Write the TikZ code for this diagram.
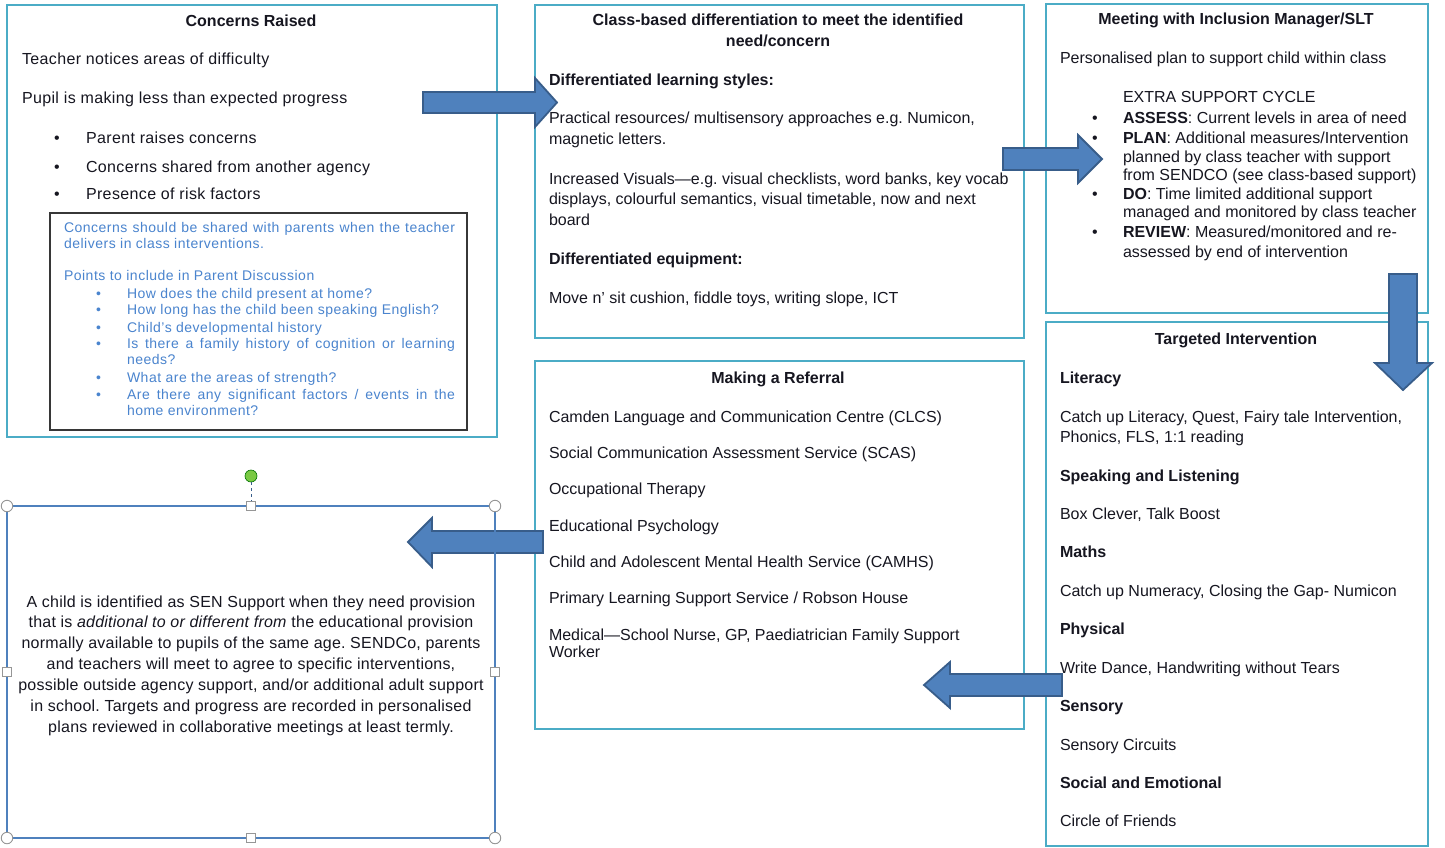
\documentclass[tikz,border=0pt]{standalone}
\usepackage{fontspec}
\setmainfont{Liberation Sans}
\newfontfamily\widefont[LetterSpace=2.3]{Liberation Sans}
\newfontfamily\senfont[LetterSpace=1.4]{Liberation Sans}
\newfontfamily\innerfont[LetterSpace=3.6]{Liberation Sans}
\definecolor{boxteal}{RGB}{75,172,198}
\definecolor{arrowfill}{RGB}{79,129,189}
\definecolor{arrowedge}{RGB}{56,93,138}
\definecolor{ink}{RGB}{22,22,32}
\definecolor{innerblue}{RGB}{74,132,206}
\definecolor{innerframe}{RGB}{55,55,55}
\definecolor{handlegray}{RGB}{150,150,150}
\definecolor{handlegreen}{RGB}{122,201,67}
\frenchspacing
\begin{document}
\begin{tikzpicture}[x=1pt,y=-1pt,
  box/.style={draw=boxteal,line width=2.7pt,rectangle,inner sep=0pt,outer sep=0pt,anchor=north west},
  tl/.style={anchor=base west,inner sep=0pt,outer sep=0pt,text=ink,font=\fontsize{16}{19}\selectfont},
  tb/.style={tl,font=\fontsize{16}{19}\selectfont\bfseries},
  tw/.style={tl,font=\widefont\fontsize{16}{19}\selectfont},
  tc/.style={anchor=base,inner sep=0pt,outer sep=0pt,text=ink,font=\fontsize{16}{19}\selectfont\bfseries},
  tcw/.style={anchor=base,inner sep=0pt,outer sep=0pt,text=ink,font=\senfont\fontsize{16}{19}\selectfont},
  ti/.style={anchor=base west,inner sep=0pt,outer sep=0pt,text=innerblue,font=\innerfont\fontsize{14}{16}\selectfont},
  blockarrow/.style={fill=arrowfill,draw=arrowedge,line width=1.8pt,line join=miter},
  hcirc/.style={circle,draw=handlegray,fill=white,line width=0.9pt,minimum size=11.5pt,inner sep=0pt},
  hsq/.style={rectangle,draw=handlegray,fill=white,line width=0.9pt,minimum size=8.5pt,inner sep=0pt}
]
\useasboundingbox (0,0) rectangle (1445,848);
\fill[white] (0,0) rectangle (1445,848);

% ---------- boxes ----------
\node[box,minimum width=490pt,minimum height=432pt] (concerns) at (7,5) {};
\node[box,minimum width=489pt,minimum height=333pt] (classbased) at (535,5) {};
\node[box,minimum width=382pt,minimum height=309pt] (meeting) at (1046,4) {};
\node[box,minimum width=382pt,minimum height=524pt] (targeted) at (1046,322) {};
\node[box,minimum width=489pt,minimum height=368pt] (referral) at (535,361) {};
\node[draw=innerframe,line width=1.3pt,rectangle,inner sep=0pt,outer sep=0pt,anchor=north west,minimum width=417pt,minimum height=217pt] (parentbox) at (50,213) {};

% ---------- Concerns Raised ----------
\node[tc] (cr0) at (251,27) {Concerns Raised};
\node[tw] (cr1) at (22,65) {Teacher notices areas of difficulty};
\node[tw] (cr2) at (22,104) {Pupil is making less than expected progress};
\node[tl] (crb1) at (54,143) {\textbullet};
\node[tl] (crb2) at (54,172) {\textbullet};
\node[tl] (crb3) at (54,199) {\textbullet};
\node[tw] (cr3) at (86,143) {Parent raises concerns};
\node[tw] (cr4) at (86,172) {Concerns shared from another agency};
\node[tw] (cr5) at (86,199) {Presence of risk factors};

\node[ti] (pb1) at (64,232) {\makebox[391pt][s]{Concerns should be shared with parents when the teacher}};
\node[ti] (pb2) at (64,248) {delivers in class interventions.};
\node[ti] (pb3) at (64,280) {Points to include in Parent Discussion};
\foreach \yy [count=\i] in {298,314,332,348,382,399}
  \node[ti] (pbb\i) at (96,\yy) {\textbullet};
\node[ti] (pb4) at (127,298) {How does the child present at home?};
\node[ti] (pb5) at (127,314) {How long has the child been speaking English?};
\node[ti] (pb6) at (127,332) {Child’s developmental history};
\node[ti] (pb7) at (127,348) {\makebox[328pt][s]{Is there a family history of cognition or learning}};
\node[ti] (pb8) at (127,364) {needs?};
\node[ti] (pb9) at (127,382) {What are the areas of strength?};
\node[ti] (pb10) at (127,399) {\makebox[328pt][s]{Are there any significant factors / events in the}};
\node[ti] (pb11) at (127,415) {home environment?};

% ---------- Class-based differentiation ----------
\node[tc] (cb0) at (778,26) {Class-based differentiation to meet the identified};
\node[tc] (cb1) at (778,47) {need/concern};
\node[tb] (cb2) at (549,86) {Differentiated learning styles:};
\node[tl] (cb3) at (549,124) {Practical resources/ multisensory approaches e.g. Numicon,};
\node[tl] (cb4) at (549,145) {magnetic letters.};
\node[tl] (cb5) at (549,184) {Increased Visuals—e.g. visual checklists, word banks, key vocab};
\node[tl] (cb6) at (549,204) {displays, colourful semantics, visual timetable, now and next};
\node[tl] (cb7) at (549,225) {board};
\node[tb] (cb8) at (549,264) {Differentiated equipment:};
\node[tl] (cb9) at (549,303) {Move n’ sit cushion, fiddle toys, writing slope, ICT};

% ---------- Meeting ----------
\node[tc] (mt0) at (1236,25) {Meeting with Inclusion Manager/SLT};
\node[tl] (mt1) at (1060,64) {Personalised plan to support child within class};
\node[tl] (mt2) at (1123,103) {EXTRA SUPPORT CYCLE};
\foreach \yy [count=\i] in {124,143,199,237}
  \node[tl] (mtb\i) at (1092,\yy) {\textbullet};
\node[tl] (mt3) at (1123,124) {\textbf{ASSESS}: Current levels in area of need};
\node[tl] (mt4) at (1123,143) {\textbf{PLAN}: Additional measures/Intervention};
\node[tl] (mt5) at (1123,162) {planned by class teacher with support};
\node[tl] (mt6) at (1123,180) {from SENDCO (see class-based support)};
\node[tl] (mt7) at (1123,199) {\textbf{DO}: Time limited additional support};
\node[tl] (mt8) at (1123,217) {managed and monitored by class teacher};
\node[tl] (mt9) at (1123,237) {\textbf{REVIEW}: Measured/monitored and re-};
\node[tl] (mt10) at (1123,257) {assessed by end of intervention};

% ---------- Targeted ----------
\node[tc] (ti0) at (1236,344) {Targeted Intervention};
\node[tb] (ti1) at (1060,383) {Literacy};
\node[tl] (ti2) at (1060,422) {Catch up Literacy, Quest, Fairy tale Intervention,};
\node[tl] (ti3) at (1060,442) {Phonics, FLS, 1:1 reading};
\node[tb] (ti4) at (1060,481) {Speaking and Listening};
\node[tl] (ti5) at (1060,519) {Box Clever, Talk Boost};
\node[tb] (ti6) at (1060,557) {Maths};
\node[tl] (ti7) at (1060,596) {Catch up Numeracy, Closing the Gap- Numicon};
\node[tb] (ti8) at (1060,634) {Physical};
\node[tl] (ti9) at (1060,673) {Write Dance, Handwriting without Tears};
\node[tb] (ti10) at (1060,711) {Sensory};
\node[tl] (ti11) at (1060,750) {Sensory Circuits};
\node[tb] (ti12) at (1060,788) {Social and Emotional};
\node[tl] (ti13) at (1060,826) {Circle of Friends};

% ---------- Referral ----------
\node[tc] (rf0) at (778,383) {Making a Referral};
\node[tl] (rf1) at (549,422) {Camden Language and Communication Centre (CLCS)};
\node[tl] (rf2) at (549,458) {Social Communication Assessment Service (SCAS)};
\node[tl] (rf3) at (549,494) {Occupational Therapy};
\node[tl] (rf4) at (549,531) {Educational Psychology};
\node[tl] (rf5) at (549,567) {Child and Adolescent Mental Health Service (CAMHS)};
\node[tl] (rf6) at (549,603) {Primary Learning Support Service / Robson House};
\node[tl] (rf7) at (549,640) {Medical—School Nurse, GP, Paediatrician Family Support};
\node[tl] (rf8) at (549,657) {Worker};

% ---------- SEN Support text ----------
\node[tcw] (sn1) at (251,607) {A child is identified as SEN Support when they need provision};
\node[tcw] (sn2) at (251,627) {that is \textit{additional to or different from} the educational provision};
\node[tcw] (sn3) at (251,648) {normally available to pupils of the same age. SENDCo, parents};
\node[tcw] (sn4) at (251,669) {and teachers will meet to agree to specific interventions,};
\node[tcw] (sn5) at (251,690) {possible outside agency support, and/or additional adult support};
\node[tcw] (sn6) at (251,711) {in school. Targets and progress are recorded in personalised};
\node[tcw] (sn7) at (251,732) {plans reviewed in collaborative meetings at least termly.};

% ---------- block arrows ----------
\draw[blockarrow] (423,92) -- (535,92) -- (535,78) -- (557,102.5) -- (535,127) -- (535,113) -- (423,113) -- cycle;
\draw[blockarrow] (1003,148) -- (1078,148) -- (1078,135) -- (1102,159) -- (1078,183) -- (1078,170) -- (1003,170) -- cycle;
\draw[blockarrow] (1389,274) -- (1417,274) -- (1417,363) -- (1432,363) -- (1403,390) -- (1375,363) -- (1389,363) -- cycle;
\draw[blockarrow] (1062,674) -- (950,674) -- (950,662) -- (924,685) -- (950,708) -- (950,696) -- (1062,696) -- cycle;
\draw[blockarrow] (543,531) -- (432,531) -- (432,518) -- (408,542) -- (432,567) -- (432,553) -- (543,553) -- cycle;

% ---------- selected text box ----------
\node[draw=arrowfill,line width=2pt,rectangle,inner sep=0pt,outer sep=0pt,anchor=north west,minimum width=488pt,minimum height=332pt] (sen) at (7,506) {};
\node[circle,fill=handlegreen,draw=green!45!black,line width=0.6pt,minimum size=12pt,inner sep=0pt] (rot) at (251,476) {};
\draw[dashed,draw=arrowedge,line width=0.9pt] (rot) -- (sen.north);
\node[hcirc] (hnw) at (sen.north west) {};
\node[hcirc] (hne) at (sen.north east) {};
\node[hcirc] (hsw) at (sen.south west) {};
\node[hcirc] (hse) at (sen.south east) {};
\node[hsq] (hn) at (sen.north) {};
\node[hsq] (hs) at (sen.south) {};
\node[hsq] (hw) at (sen.west) {};
\node[hsq] (he) at (sen.east) {};
\end{tikzpicture}
\end{document}
